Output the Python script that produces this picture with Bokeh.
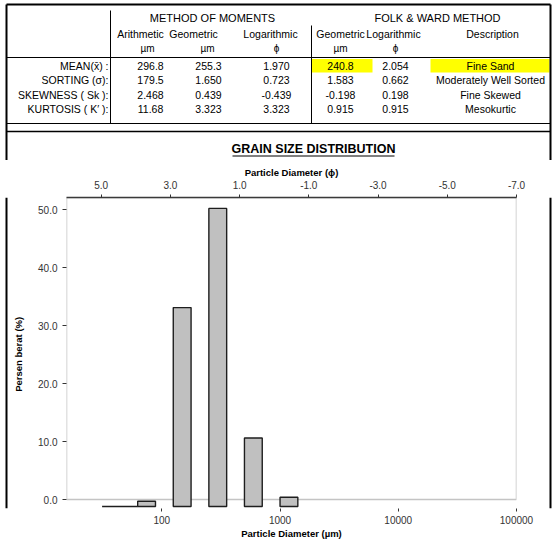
from bokeh.plotting import figure
from bokeh.layouts import column, row
from bokeh.models import (Range1d, LinearAxis, FixedTicker, PrintfTickFormatter,
                          BoxAnnotation, ColumnDataSource, LinearScale)
from bokeh.core.properties import value
from bokeh.embed import file_html
from bokeh.resources import INLINE

FONT = "Liberation Sans"

# ---------------- data ----------------
row_labels = ["MEAN(x\u0304) :", "SORTING (\u03c3):", "SKEWNESS ( Sk ):", "KURTOSIS ( K\u2032 ):"]
mom_arith_um = [296.8, 179.5, 2.468, 11.68]
mom_geom_um = [255.3, 1.650, 0.439, 3.323]
mom_log_phi = [1.970, 0.723, -0.439, 3.323]
fw_geom_um = [240.8, 1.583, -0.198, 0.915]
fw_log_phi = [2.054, 0.662, 0.198, 0.915]
fw_description = ["Fine Sand", "Moderately Well Sorted", "Fine Skewed", "Mesokurtic"]

bin_lower_um = [31.25, 62.5, 125, 250, 500, 1000]
bin_upper_um = [62.5, 88.4, 176.8, 353.6, 707.1, 1414.2]
weight_pct = [0.0, 0.9, 34.3, 51.4, 11.8, 1.6]

phi_ticks = [5.0, 3.0, 1.0, -1.0, -3.0, -5.0, -7.0]
um_ticks = [100, 1000, 10000, 100000]
pct_ticks = [0, 10, 20, 30, 40, 50]


def fmt(v):
    a = abs(v)
    if a >= 100:
        return f"{v:.1f}"
    if a >= 10:
        return f"{v:.2f}"
    return f"{v:.3f}"


W = 555
HA = 160
CH = 541 - HA

# ---------------- table / header figure ----------------
t = figure(width=W, height=HA, x_range=Range1d(0, W), y_range=Range1d(HA, 0),
           output_backend="svg", toolbar_location=None, min_border=0,
           x_axis_location=None, y_axis_location=None, outline_line_color=None)
t.grid.visible = False

# yellow highlights
t.quad(left=[311, 430], right=[372, 549], top=[58.5, 58.5], bottom=[72, 72],
       fill_color="#FFFF00", line_color=None)

# frame lines
t.segment(x0=[6, 6, 550], y0=[4, 4, 4], x1=[550, 6, 550], y1=[4, HA, HA],
          line_color="black", line_width=2)
t.segment(x0=[6, 6, 110, 311], y0=[57, 123, 10, 25], x1=[550, 550, 110, 311], y1=[57, 123, 123, 123],
          line_color="black", line_width=1)
t.segment(x0=[6], y0=[131], x1=[550], y1=[131], line_color="black", line_width=1.5)


def txt(xs, ys, texts, size="11px", align="center", style="normal"):
    t.text(x=xs, y=ys, text=texts, text_font=value(FONT), text_font_size=size,
           text_align=align, text_baseline="middle", text_color="black",
           text_font_style=style)


txt([212, 437], [17, 17], ["METHOD OF MOMENTS", "FOLK & WARD METHOD"], size="11px")
txt([140, 193, 270, 340, 393, 492], [33] * 6,
    ["Arithmetic", "Geometric", "Logarithmic", "Geometric", "Logarithmic", "Description"], size="10.5px")
txt([147, 207, 276, 340, 395], [48] * 5, ["\u00b5m", "\u00b5m", "\u03d5", "\u00b5m", "\u03d5"], size="10px")

row_y = [65, 79.5, 94, 108.5]
txt([108] * 4, row_y, row_labels, size="10.5px", align="right")
for cx, vals in [(150, mom_arith_um), (208, mom_geom_um), (276, mom_log_phi),
                 (340, fw_geom_um), (395, fw_log_phi)]:
    txt([cx] * 4, row_y, [fmt(v) for v in vals], size="10.5px")
txt([490] * 4, row_y, fw_description, size="10.5px")

# chart title (underlined)
txt([313], [148], ["GRAIN SIZE DISTRIBUTION"], size="12.5px", style="bold")
t.segment(x0=[232], y0=[155.5], x1=[394], y1=[155.5], line_color="black", line_width=1.2)

# ---------------- chart figure ----------------
p = figure(width=535, height=CH, x_axis_type="log",
           x_range=Range1d(15.625, 100000), y_range=Range1d(-1.55, 52.07),
           output_backend="svg", toolbar_location=None,
           min_border_left=52, min_border_right=29, min_border_top=37, min_border_bottom=33,
           outline_line_color=None)
p.grid.visible = False
p.extra_x_ranges = {"phi": Range1d(6, -7)}
p.extra_x_scales = {"phi": LinearScale()}
p.extra_y_ranges = {"wt": Range1d(-0.345, 53.28)}
p.extra_y_scales = {"wt": LinearScale()}

frame_box = BoxAnnotation(bottom=0, fill_color=None, fill_alpha=0, line_color="#3a3a3a",
                          line_width=1.5, level="underlay")
p.add_layout(frame_box)

src = ColumnDataSource(dict(lo=bin_lower_um, hi=bin_upper_um, w=weight_pct))
p.quad(left="lo", right="hi", bottom=0, top="w", source=src, y_range_name="wt",
       fill_color="#C0C0C0", line_color="#1e1e1e", line_width=1.4)

LBL = "#333333"

phi_axis = LinearAxis(x_range_name="phi", ticker=FixedTicker(ticks=phi_ticks),
                      formatter=PrintfTickFormatter(format="%.1f"),
                      axis_label="Particle Diameter (\u03d5)")
p.add_layout(phi_axis, "above")

for ax in [phi_axis, p.below[0], p.left[0]]:
    ax.major_label_text_font = FONT
    ax.major_label_text_font_size = "10px"
    ax.major_label_text_color = LBL
    ax.axis_label_text_font = FONT
    ax.axis_label_text_font_size = "9.5px"
    ax.axis_label_text_font_style = "bold"
    ax.axis_label_text_color = "black"
    ax.minor_tick_line_color = None
    ax.major_tick_in = 0
    ax.major_tick_line_color = "#333333"

phi_axis.axis_line_color = "#3a3a3a"
phi_axis.axis_line_width = 1.5
phi_axis.major_tick_out = 3
phi_axis.major_label_standoff = 6
phi_axis.axis_label_standoff = 0

bx = p.below[0]
bx.ticker = FixedTicker(ticks=um_ticks)
bx.formatter = PrintfTickFormatter(format="%d")
bx.axis_label = "Particle Diameter (\u00b5m)"
bx.axis_line_color = None
bx.major_tick_out = 3
bx.major_label_standoff = 4
bx.axis_label_standoff = 1

ly = p.left[0]
ly.ticker = FixedTicker(ticks=pct_ticks)
ly.formatter = PrintfTickFormatter(format="%.1f")
ly.axis_label = "Persen berat  (%)"
ly.axis_line_color = None
ly.major_tick_out = 4
ly.major_label_standoff = 5
ly.axis_label_standoff = 11


def strip(xline):
    s = figure(width=10, height=CH, x_range=Range1d(0, 10), y_range=Range1d(0, CH),
               output_backend="svg", toolbar_location=None, min_border=0,
               x_axis_location=None, y_axis_location=None, outline_line_color=None)
    s.grid.visible = False
    s.segment(x0=[xline], y0=[0], x1=[xline], y1=[CH], line_color="black", line_width=2)
    return s


layout = column(t, row(strip(6), p, strip(5)))
open("out.html", "w").write(file_html(layout, INLINE))
